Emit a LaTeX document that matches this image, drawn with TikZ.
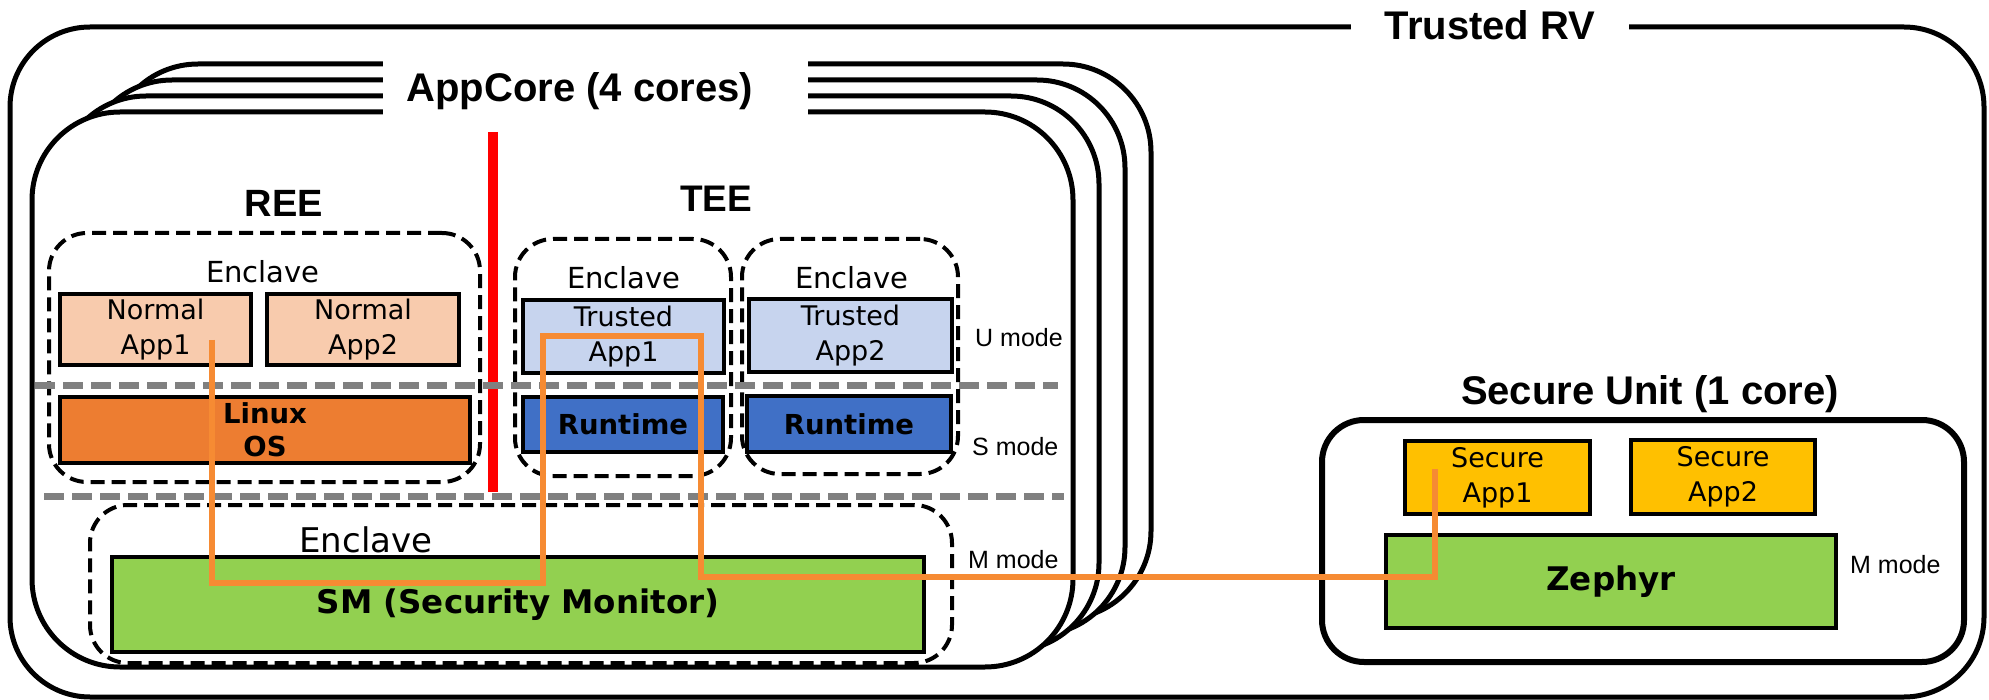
\documentclass[tikz,border=0pt]{standalone}
\usepackage{fontspec}
\setmainfont{Liberation Sans}
\newfontfamily\jf{DejaVu Sans}
\definecolor{peach}{HTML}{F8CBAD}
\definecolor{linuxor}{HTML}{ED7D31}
\definecolor{lblue}{HTML}{C7D4EE}
\definecolor{rtblue}{HTML}{4070C6}
\definecolor{smgreen}{HTML}{92D050}
\definecolor{gold}{HTML}{FFC000}
\definecolor{conn}{HTML}{F68B33}
\definecolor{modegray}{HTML}{808080}
\begin{document}
\begin{tikzpicture}[x=1pt,y=-1pt,
  frame/.style={draw, line width=5pt, rounded corners=88pt, fill=white, inner sep=0pt},
  encl/.style={draw, line width=4pt, dash pattern=on 14pt off 7pt, rounded corners=38pt, inner sep=0pt},
  appbox/.style={draw, line width=4.5pt, inner sep=0pt, align=center, font=\jf\fontsize{27}{35}\selectfont},
  boldbox/.style={draw, line width=4.5pt, inner sep=0pt, align=center, font=\jf\bfseries\fontsize{27.5}{33}\selectfont},
  title/.style={font=\bfseries\fontsize{40}{46}\selectfont, inner sep=0pt},
  encltxt/.style={font=\jf\fontsize{29}{34}\selectfont, inner sep=0pt},
  mode/.style={font=\fontsize{25}{30}\selectfont, inner sep=0pt},
  graydash/.style={draw=modegray, line width=7pt, dash pattern=on 20pt off 8pt},
  connline/.style={draw=conn, line width=5.5pt, line join=miter}
]
\useasboundingbox (0,0) rectangle (1989,700);
% outer
\node[frame, rounded corners=80pt, minimum width=1974pt, minimum height=670pt] (rv) at (997,362) {};
\node[title, fill=white, minimum width=278pt, minimum height=40pt, anchor=base] (rvt) at (1490,40) {Trusted RV};
% AppCore stack
\node[frame, minimum width=1041pt, minimum height=555pt] (core3) at (630.5,341.5) {};
\node[frame, minimum width=1041pt, minimum height=555pt] (core2) at (604.5,357.5) {};
\node[frame, minimum width=1041pt, minimum height=555pt] (core1) at (578.5,373.5) {};
\node[frame, minimum width=1041pt, minimum height=555pt] (core0) at (552.5,389.5) {};
\fill[white] (383,52) rectangle (808,118);
\node[title, anchor=base] (appt) at (580,102) {AppCore (4 cores)};
% REE / TEE titles
\node[title, font=\bfseries\fontsize{38}{44}\selectfont, anchor=base] (ree) at (284,217) {REE};
\node[title, font=\bfseries\fontsize{37}{44}\selectfont, anchor=base] (tee) at (716,212) {TEE};
% enclaves
\node[encl, minimum width=431pt, minimum height=249pt] (reeenc) at (264.5,357.5) {};
\node[encl, minimum width=216pt, minimum height=237pt] (teeenc1) at (623,357.5) {};
\node[encl, minimum width=216pt, minimum height=235pt] (teeenc2) at (850,356.5) {};
\node[encl, minimum width=862pt, minimum height=158pt] (menc) at (521,584) {};
\node[encltxt, anchor=base] (reeenct) at (263,283) {Enclave};
\node[encltxt, anchor=base] (teeenc1t) at (624,289) {Enclave};
\node[encltxt, anchor=base] (teeenc2t) at (852,289) {Enclave};
\node[encltxt, font=\jf\fontsize{34}{40}\selectfont, anchor=base] (menct) at (366,552) {Enclave};
% boxes
\node[appbox, fill=peach, minimum width=191pt, minimum height=71pt] (na1) at (155.5,329.5) {Normal\\App1};
\node[appbox, fill=peach, minimum width=192pt, minimum height=71pt] (na2) at (363,329.5) {Normal\\App2};
\node[boldbox, fill=linuxor, minimum width=410pt, minimum height=66pt] (linux) at (265,430) {Linux\\OS};
\node[appbox, fill=lblue, minimum width=201pt, minimum height=73pt] (ta1) at (623.5,336.5) {Trusted\\App1};
\node[appbox, fill=lblue, minimum width=203pt, minimum height=73pt] (ta2) at (850.5,335.5) {Trusted\\App2};
\node[boldbox, fill=rtblue, minimum width=200pt, minimum height=55pt] (rt1) at (623,424.5) {Runtime};
\node[boldbox, fill=rtblue, minimum width=204pt, minimum height=56pt] (rt2) at (849,424) {Runtime};
\node[boldbox, fill=smgreen, font=\jf\bfseries\fontsize{32.5}{38}\selectfont, minimum width=812pt, minimum height=95pt] (sm) at (518,604.5) {SM (Security Monitor)};
% secure unit
\node[frame, line width=6pt, rounded corners=42pt, minimum width=642pt, minimum height=242pt] (su) at (1643,541) {};
\node[title, anchor=base] (sut) at (1650,405) {Secure Unit (1 core)};
\node[appbox, fill=gold, minimum width=185pt, minimum height=73pt] (sa1) at (1497.5,477.5) {Secure\\App1};
\node[appbox, fill=gold, minimum width=184pt, minimum height=74pt] (sa2) at (1723,477) {Secure\\App2};
\node[boldbox, fill=smgreen, font=\jf\bfseries\fontsize{32.5}{38}\selectfont, minimum width=450pt, minimum height=93pt] (zep) at (1611,581.5) {Zephyr};
% red separator
\coordinate (redtop) at (493,132);
\coordinate (redbot) at (493,492);
\draw[red, line width=10pt] (redtop) -- (redbot);
% privilege level separators
\coordinate (g1a) at (35,386);
\coordinate (g1b) at (1058,386);
\coordinate (g2a) at (44,496);
\coordinate (g2b) at (1064,496);
\draw[graydash] (g1a) -- (g1b);
\draw[graydash] (g2a) -- (g2b);
% mode labels
\node[mode, anchor=base west] (um) at (975,347) {U mode};
\node[mode, anchor=base west] (sm2) at (972,455) {S mode};
\node[mode, anchor=base west] (mm) at (968,568) {M mode};
\node[mode, anchor=base west] (mm2) at (1850,573) {M mode};
% orange connector
\coordinate (o1) at (212,340);
\coordinate (o2) at (212,583);
\coordinate (o3) at (543,583);
\coordinate (o4) at (543,336);
\coordinate (o5) at (701,336);
\coordinate (o6) at (701,577);
\coordinate (o7) at (1435,577);
\coordinate (o8) at (1435,469);
\draw[connline] (o1) -- (o2) -- (o3) -- (o4) -- (o5) -- (o6) -- (o7) -- (o8);
\end{tikzpicture}
\end{document}
